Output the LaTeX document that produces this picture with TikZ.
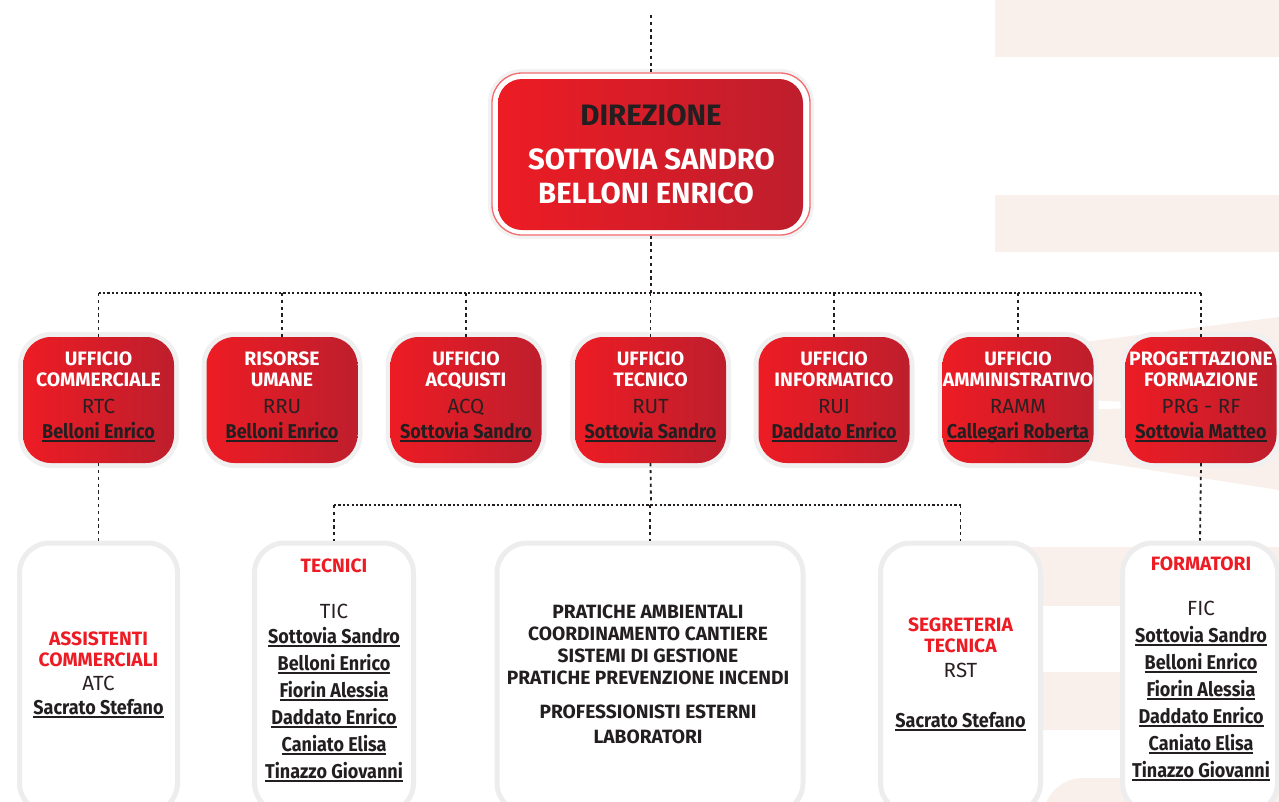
\documentclass[tikz,border=0pt]{standalone}
\usepackage{fontspec}
\setmainfont{Fira Sans}
\newfontfamily\condfont{Fira Sans}[FakeStretch=0.9]
\definecolor{rA}{HTML}{ED1C24}
\definecolor{rB}{HTML}{BE1E2D}
\definecolor{ink}{HTML}{231F20}
\definecolor{codeg}{HTML}{2A2022}
\definecolor{beige}{HTML}{FAF0EB}
\definecolor{dirline}{HTML}{F26B6F}
\newcommand{\ulname}[1]{\setbox0=\hbox{#1}\rlap{\rule[-4pt]{\wd0}{1.6pt}}\box0}
\begin{document}
\begin{tikzpicture}[x=1pt,y=-1pt,
  rbox/.style={minimum width=151, minimum height=126, inner sep=0, rounded corners=28,
    left color=rA, right color=rB, preaction={draw=black!6, line width=10}},
  wbox/.style={minimum height=270, inner sep=0, rounded corners=30, fill=white,
    draw=black!7, line width=5},
  lbl/.style={anchor=base, inner sep=0pt},
  ttl/.style={lbl, white, font=\bfseries\fontsize{19.4}{21}\selectfont},
  rttl/.style={lbl, rA, font=\bfseries\fontsize{19.3}{21}\selectfont},
  cod/.style={lbl, codeg, font=\fontsize{20.5}{21}\selectfont},
  nam/.style={lbl, ink, font=\condfont\bfseries\fontsize{20}{21}\selectfont},
  mid/.style={lbl, ink, font=\bfseries\fontsize{19.2}{20}\selectfont},
  dv/.style={ink, line width=1.8, dash pattern=on 3.2 off 3.6},
  dh/.style={ink, line width=1.8, dash pattern=on 2.2 off 2.2}]
\useasboundingbox (0,0) rectangle (1279,801);
\clip (0,0) rectangle (1279,801);
% background decoration
\fill[beige] (995,0) rectangle (1279,57);
\fill[beige] (995,195) rectangle (1279,252);
\fill[beige] (1060,345) -- (1279,317) -- (1279,490) -- (1060,456) -- cycle;
\fill[white] (1060,399) -- (1200,405) -- (1060,411) -- cycle;
\fill[beige] (990,547) rectangle (1279,606);
\fill[beige] (990,672) rectangle (1279,730);
\fill[beige, rounded corners=40] (1043,778) rectangle (1330,850);

% direzione
\node[draw=dirline, line width=1.3, fill=white, rounded corners=30, minimum width=318,
  minimum height=162, inner sep=0, preaction={draw=black!5, line width=8}] (dirframe) at (651,154) {};
\node[minimum width=305, minimum height=151, inner sep=0, rounded corners=24,
  left color=rA, right color=rB] (dir) at (650.5,154.5) {};
\node[lbl, ink, font=\bfseries\fontsize{29.5}{30}\selectfont] (dirT) at (651,125) {DIREZIONE};
\node[lbl, white, font=\bfseries\fontsize{29.3}{30}\selectfont] (dirN1) at (651.5,169) {SOTTOVIA SANDRO};
\node[lbl, white, font=\bfseries\fontsize{29.3}{30}\selectfont] (dirN2) at (646,203) {BELLONI ENRICO};

% second row
\foreach \cx/\ta/\tb/\cd/\nm [count=\i] in {
  98.5/UFFICIO/COMMERCIALE/RTC/Belloni Enrico,
  282/RISORSE/UMANE/RRU/Belloni Enrico,
  466/UFFICIO/ACQUISTI/ACQ/Sottovia Sandro,
  650.5/UFFICIO/TECNICO/RUT/Sottovia Sandro,
  834/UFFICIO/INFORMATICO/RUI/Daddato Enrico,
  1018/UFFICIO/AMMINISTRATIVO/RAMM/Callegari Roberta,
  1201/PROGETTAZIONE/FORMAZIONE/PRG - RF/Sottovia Matteo}{
  \node[rbox] (b\i) at (\cx,400) {};
  \node[ttl] (b\i-a) at (\cx,365) {\ta};
  \node[ttl] (b\i-b) at (\cx,386) {\tb};
  \node[cod] (b\i-c) at (\cx,413) {\cd};
  \node[nam] (b\i-d) at (\cx,438) {\ulname{\nm}};
}

% third row boxes
\node[wbox, minimum width=158] (c1) at (98.5,678) {};
\node[wbox, minimum width=159] (c2) at (334,678) {};
\node[wbox, minimum width=306] (c3) at (650,678) {};
\node[wbox, minimum width=160] (c4) at (960.5,678) {};
\node[wbox, minimum width=155] (c5) at (1200,678) {};

% connectors
\coordinate (top) at (651,15);
\coordinate (bus1) at (651,293);
\coordinate (bus2) at (651,505);
\draw[dv] (top) -- (dirframe.north);
\draw[dv] (dirframe.south) -- (bus1);
\draw[dh] (b1.north |- bus1) -- (b7.north |- bus1);
\foreach \i in {1,...,7} \draw[dv] (b\i.north |- bus1) -- (b\i.north);
\draw[dv] (b1.south) -- (c1.north);
\draw[dv] (b4.south) -- (bus2);
\draw[dh] (c2.north |- bus2) -- (c4.north |- bus2);
\foreach \j in {2,3,4} \draw[dv] (c\j.north |- bus2) -- (c\j.north);
\draw[dv] (b7.south) -- (c5.north);

% third row texts
\node[rttl] (c1-a) at (98.5,645) {ASSISTENTI};
\node[rttl] (c1-b) at (98.5,666) {COMMERCIALI};
\node[cod] (c1-c) at (98.5,690) {ATC};
\node[nam] (c1-d) at (98.5,714) {\ulname{Sacrato Stefano}};

\node[rttl] (c2-a) at (334,572) {TECNICI};
\node[cod] (c2-c) at (334,618) {TIC};
\foreach \nm/\yy [count=\k] in {Sottovia Sandro/643, Belloni Enrico/670, Fiorin Alessia/697,
  Daddato Enrico/724, Caniato Elisa/751, Tinazzo Giovanni/778}{
  \node[nam] (c2-n\k) at (334,\yy) {\ulname{\nm}};
  \node[nam] (c5-n\k) at (1201,\yy-1) {\ulname{\nm}};
}

\node[mid] (c3-a) at (648,618) {PRATICHE AMBIENTALI};
\node[mid] (c3-b) at (648,640) {COORDINAMENTO CANTIERE};
\node[mid] (c3-c) at (648,662) {SISTEMI DI GESTIONE};
\node[mid] (c3-d) at (648,684) {PRATICHE PREVENZIONE INCENDI};
\node[mid] (c3-e) at (648,718) {PROFESSIONISTI ESTERNI};
\node[mid] (c3-f) at (648,743) {LABORATORI};

\node[rttl] (c4-a) at (960.5,631) {SEGRETERIA};
\node[rttl] (c4-b) at (960.5,652) {TECNICA};
\node[cod] (c4-c) at (960.5,677) {RST};
\node[nam] (c4-d) at (960.5,727) {\ulname{Sacrato Stefano}};

\node[rttl] (c5-a) at (1201,570) {FORMATORI};
\node[cod] (c5-c) at (1201,615) {FIC};
\end{tikzpicture}
\end{document}
